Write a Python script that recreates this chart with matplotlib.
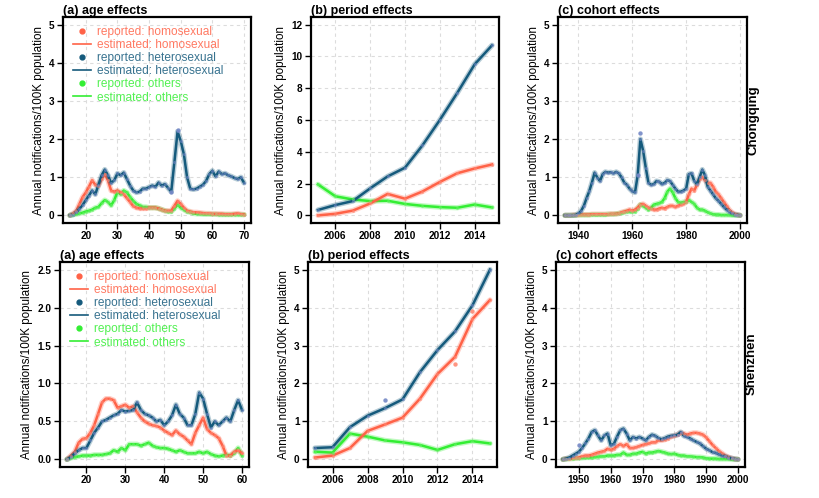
import numpy as np
import matplotlib
matplotlib.use('Agg')
import matplotlib.pyplot as plt
from matplotlib.lines import Line2D

plt.rcParams['font.family'] = ['Liberation Sans', 'DejaVu Sans']

# ---------------------------------------------------------------- data
cq_age = list(range(15, 71))
cq_age_homo = [0.0, 0.05, 0.12, 0.3, 0.48, 0.6, 0.75, 0.92, 0.8, 0.78,
               0.95, 1.08, 0.92, 0.65, 0.62, 0.65, 0.6, 0.55, 0.45, 0.35,
               0.24, 0.2, 0.18, 0.18, 0.18, 0.2, 0.2, 0.2, 0.18, 0.15,
               0.12, 0.12, 0.12, 0.25, 0.38, 0.3, 0.2, 0.12, 0.1, 0.08,
               0.08, 0.07, 0.06, 0.05, 0.05, 0.04, 0.04, 0.04, 0.04, 0.03,
               0.03, 0.03, 0.04, 0.05, 0.03, 0.02]
cq_age_hetero = [0.0, 0.02, 0.08, 0.17, 0.27, 0.4, 0.52, 0.65, 0.55, 0.8,
                 1.05, 1.2, 1.05, 0.85, 0.92, 1.1, 1.05, 1.12, 0.95, 0.78,
                 0.65, 0.6, 0.62, 0.7, 0.7, 0.74, 0.78, 0.75, 0.86, 0.78,
                 0.82, 0.72, 0.62, 1.4, 2.2, 1.95, 1.6, 1.0, 0.7, 0.68,
                 0.7, 0.75, 0.8, 0.9, 1.08, 1.17, 1.02, 1.15, 1.08, 1.1,
                 1.05, 1.02, 0.98, 0.95, 1.0, 0.85]
cq_age_other = [0.0, 0.02, 0.03, 0.05, 0.07, 0.1, 0.12, 0.15, 0.2, 0.22,
                0.32, 0.4, 0.35, 0.26, 0.4, 0.62, 0.55, 0.65, 0.6, 0.48,
                0.38, 0.3, 0.26, 0.22, 0.22, 0.2, 0.2, 0.2, 0.18, 0.15,
                0.12, 0.1, 0.1, 0.18, 0.28, 0.2, 0.15, 0.1, 0.08, 0.05,
                0.04, 0.04, 0.03, 0.03, 0.03, 0.03, 0.03, 0.02, 0.02, 0.02,
                0.02, 0.02, 0.02, 0.02, 0.02, 0.02]

cq_year = list(range(2005, 2016))
cq_year_homo = [0.0, 0.1, 0.3, 0.75, 1.35, 1.05, 1.5, 2.1, 2.65, 2.95, 3.2]
cq_year_hetero = [0.34, 0.65, 0.9, 1.7, 2.45, 3.0, 4.4, 6.0, 7.7, 9.5, 10.7]
cq_year_other = [1.95, 1.2, 1.0, 0.9, 0.92, 0.72, 0.6, 0.52, 0.48, 0.68, 0.5]

cq_cohort = list(range(1935, 2001))
cq_cohort_homo = [0, 0, 0, 0.01, 0.01, 0.01, 0.02, 0.02, 0.02, 0.02,
                  0.03, 0.03, 0.03, 0.03, 0.03, 0.03, 0.03, 0.04, 0.04, 0.04,
                  0.05, 0.08, 0.1, 0.12, 0.15, 0.12, 0.15, 0.2, 0.28, 0.3,
                  0.25, 0.2, 0.18, 0.15, 0.15, 0.18, 0.2, 0.18, 0.22, 0.25,
                  0.25, 0.22, 0.25, 0.28, 0.3, 0.35, 0.55, 0.7, 0.65, 0.8,
                  0.95, 1.0, 0.92, 0.85, 0.85, 0.75, 0.62, 0.55, 0.45, 0.35,
                  0.25, 0.15, 0.08, 0.04, 0.02, 0.0]
cq_cohort_hetero = [0, 0, 0, 0, 0.01, 0.05, 0.12, 0.25, 0.45, 0.63,
                    0.86, 1.12, 0.99, 0.9, 1.08, 1.14, 1.12, 1.13, 1.1, 1.14,
                    1.1, 1.0, 0.86, 0.8, 0.7, 0.63, 0.6, 1.05, 2.0, 1.7,
                    1.25, 0.85, 0.8, 0.82, 0.9, 0.88, 0.82, 0.85, 0.92, 0.9,
                    0.8, 0.7, 0.62, 0.62, 0.65, 0.7, 1.08, 1.1, 0.9, 0.82,
                    1.0, 1.2, 1.05, 0.75, 0.65, 0.55, 0.45, 0.38, 0.3, 0.22,
                    0.15, 0.1, 0.05, 0.02, 0.01, 0.0]
cq_cohort_other = [0, 0, 0, 0, 0, 0.01, 0.01, 0.01, 0.01, 0.01,
                   0.02, 0.02, 0.02, 0.02, 0.02, 0.02, 0.03, 0.03, 0.03, 0.04,
                   0.05, 0.06, 0.08, 0.1, 0.1, 0.1, 0.1, 0.18, 0.28, 0.25,
                   0.2, 0.15, 0.2, 0.28, 0.3, 0.32, 0.35, 0.45, 0.62, 0.7,
                   0.6, 0.45, 0.35, 0.33, 0.35, 0.35, 0.4, 0.35, 0.3, 0.2,
                   0.15, 0.15, 0.12, 0.08, 0.05, 0.03, 0.02, 0.02, 0.01, 0.01,
                   0.01, 0.01, 0, 0, 0, 0]

sz_age = list(range(15, 61))
sz_age_homo = [0.0, 0.05, 0.1, 0.22, 0.27, 0.28, 0.35, 0.45, 0.6, 0.75,
               0.8, 0.8, 0.78, 0.68, 0.7, 0.72, 0.68, 0.7, 0.62, 0.55,
               0.5, 0.47, 0.45, 0.44, 0.42, 0.38, 0.35, 0.32, 0.38, 0.33,
               0.3, 0.25, 0.2, 0.35, 0.45, 0.55, 0.4, 0.35, 0.32, 0.28,
               0.18, 0.05, 0.05, 0.1, 0.12, 0.08]
sz_age_hetero = [0.0, 0.03, 0.08, 0.12, 0.15, 0.15, 0.25, 0.35, 0.42, 0.5,
                 0.52, 0.55, 0.58, 0.6, 0.65, 0.63, 0.64, 0.65, 0.75, 0.65,
                 0.6, 0.58, 0.55, 0.5, 0.52, 0.45, 0.5, 0.58, 0.72, 0.6,
                 0.55, 0.45, 0.45, 0.6, 0.88, 0.8, 0.6, 0.42, 0.5, 0.45,
                 0.5, 0.55, 0.5, 0.65, 0.78, 0.65]
sz_age_other = [0.0, 0.02, 0.03, 0.04, 0.05, 0.05, 0.05, 0.06, 0.06, 0.06,
                0.07, 0.08, 0.12, 0.1, 0.15, 0.12, 0.2, 0.2, 0.2, 0.18,
                0.2, 0.22, 0.18, 0.16, 0.15, 0.15, 0.14, 0.12, 0.1, 0.12,
                0.1, 0.08, 0.08, 0.08, 0.1, 0.08, 0.1, 0.07, 0.05, 0.04,
                0.05, 0.06, 0.05, 0.08, 0.15, 0.05]

sz_year = list(range(2005, 2016))
sz_year_homo = [0.05, 0.1, 0.3, 0.75, 0.92, 1.1, 1.6, 2.25, 2.7, 3.7, 4.2]
sz_year_hetero = [0.3, 0.32, 0.85, 1.15, 1.35, 1.58, 2.3, 2.88, 3.37, 4.06, 5.0]
sz_year_other = [0.2, 0.18, 0.68, 0.6, 0.5, 0.45, 0.38, 0.25, 0.4, 0.48, 0.42]

sz_cohort = list(range(1945, 2001))
sz_cohort_homo = [0, 0.02, 0.02, 0.03, 0.04, 0.05, 0.08, 0.1, 0.1, 0.12,
                  0.15, 0.18, 0.2, 0.22, 0.28, 0.25, 0.28, 0.35, 0.4, 0.35,
                  0.4, 0.3, 0.3, 0.32, 0.35, 0.38, 0.4, 0.42, 0.45, 0.45,
                  0.5, 0.5, 0.52, 0.55, 0.6, 0.62, 0.65, 0.7, 0.68, 0.65,
                  0.68, 0.7, 0.7, 0.68, 0.65, 0.58, 0.48, 0.38, 0.3, 0.22,
                  0.16, 0.1, 0.06, 0.03, 0.01, 0.0]
sz_cohort_hetero = [0, 0.02, 0.05, 0.1, 0.15, 0.2, 0.3, 0.42, 0.55, 0.72,
                    0.77, 0.63, 0.5, 0.63, 0.68, 0.37, 0.41, 0.6, 0.77, 0.81,
                    0.68, 0.5, 0.59, 0.55, 0.59, 0.55, 0.5, 0.59, 0.65, 0.62,
                    0.56, 0.53, 0.56, 0.6, 0.62, 0.63, 0.65, 0.72, 0.62, 0.59,
                    0.55, 0.5, 0.46, 0.42, 0.35, 0.28, 0.24, 0.19, 0.17, 0.13,
                    0.1, 0.08, 0.05, 0.03, 0.01, 0.0]
sz_cohort_other = [0, 0.01, 0.02, 0.02, 0.03, 0.03, 0.04, 0.05, 0.05, 0.05,
                   0.06, 0.07, 0.08, 0.08, 0.1, 0.1, 0.1, 0.12, 0.12, 0.18,
                   0.12, 0.12, 0.15, 0.15, 0.18, 0.2, 0.15, 0.18, 0.18, 0.2,
                   0.22, 0.2, 0.18, 0.15, 0.14, 0.15, 0.12, 0.1, 0.1, 0.08,
                   0.08, 0.07, 0.06, 0.06, 0.05, 0.03, 0.02, 0.02, 0.02, 0.01,
                   0.01, 0.01, 0.01, 0, 0, 0]

# reported values that sit off the estimated curve: (panel, group, x, value)
reported_outliers = [('cq_age', 'hetero', 49, 2.25), ('cq_age', 'hetero', 47, 0.6),
                     ('cq_cohort', 'hetero', 1963, 2.15), ('cq_cohort', 'hetero', 1962, 1.07),
                     ('sz_cohort', 'hetero', 1950, 0.37), ('sz_year', 'hetero', 2009, 1.57),
                     ('sz_year', 'homo', 2013, 2.52), ('sz_year', 'homo', 2014, 3.9)]

groups = ['homo', 'hetero', 'other']
labels = {'homo': 'homosexual', 'hetero': 'heterosexual', 'other': 'others'}
colors = {'homo': '#FF6247', 'hetero': '#155A7C', 'other': '#33EE33'}
pt_colors = {'homo': '#FF8A75', 'hetero': '#7488C6', 'other': '#66F066'}

panels = {
    'cq_age': (cq_age, {'homo': cq_age_homo, 'hetero': cq_age_hetero, 'other': cq_age_other}),
    'cq_year': (cq_year, {'homo': cq_year_homo, 'hetero': cq_year_hetero, 'other': cq_year_other}),
    'cq_cohort': (cq_cohort, {'homo': cq_cohort_homo, 'hetero': cq_cohort_hetero, 'other': cq_cohort_other}),
    'sz_age': (sz_age, {'homo': sz_age_homo, 'hetero': sz_age_hetero, 'other': sz_age_other}),
    'sz_year': (sz_year, {'homo': sz_year_homo, 'hetero': sz_year_hetero, 'other': sz_year_other}),
    'sz_cohort': (sz_cohort, {'homo': sz_cohort_homo, 'hetero': sz_cohort_hetero, 'other': sz_cohort_other}),
}

titles = {'age': '(a) age effects', 'year': '(b) period effects', 'cohort': '(c) cohort effects'}

# ---------------------------------------------------------------- layout (pixels of 820x498)
W, H = 820, 498
boxes = {
    'cq_age': (63, 17, 251, 223), 'cq_year': (311, 17, 499, 223), 'cq_cohort': (558, 17, 747, 223),
    'sz_age': (60, 262, 249, 467), 'sz_year': (308, 262, 497, 467), 'sz_cohort': (556, 262, 745, 467),
}
ylims = {'cq_age': (0, 5), 'cq_year': (0, 12), 'cq_cohort': (0, 5),
         'sz_age': (0, 2.5), 'sz_year': (0, 5), 'sz_cohort': (0, 5)}
yticks = {'cq_age': [0, 1, 2, 3, 4, 5], 'cq_year': [0, 2, 4, 6, 8, 10, 12], 'cq_cohort': [0, 1, 2, 3, 4, 5],
          'sz_age': [0.0, 0.5, 1.0, 1.5, 2.0, 2.5], 'sz_year': [0, 1, 2, 3, 4, 5], 'sz_cohort': [0, 1, 2, 3, 4, 5]}
xticks = {'cq_age': [20, 30, 40, 50, 60, 70], 'cq_year': [2006, 2008, 2010, 2012, 2014],
          'cq_cohort': [1940, 1960, 1980, 2000], 'sz_age': [20, 30, 40, 50, 60],
          'sz_year': [2006, 2008, 2010, 2012, 2014], 'sz_cohort': [1950, 1960, 1970, 1980, 1990, 2000]}

fig = plt.figure(figsize=(W / 100, H / 100), dpi=100)

for key, (xs, series) in panels.items():
    l, t, r, b = boxes[key]
    ax = fig.add_axes([l / W, 1 - b / H, (r - l) / W, (b - t) / H])
    xs = np.array(xs)
    pad = 0.04 * (xs.max() - xs.min())
    ax.set_xlim(xs.min() - pad, xs.max() + pad)
    y0, y1 = ylims[key]
    ypad = 0.04 * (y1 - y0)
    ax.set_ylim(y0 - ypad, y1 + ypad)

    ax.set_xticks(xticks[key])
    ax.set_yticks(yticks[key])
    if key == 'sz_age':
        ax.set_yticklabels(['%.1f' % v for v in yticks[key]])
    ax.grid(True, color='#DCDCDC', linestyle=(0, (3, 3)), linewidth=0.8)
    ax.set_axisbelow(True)

    for g in ['other', 'homo', 'hetero']:
        ys = np.array(series[g])
        ax.plot(xs, ys, color=colors[g], lw=3.8, alpha=0.3, solid_capstyle='round')
        ax.plot(xs, ys, color=colors[g], lw=1.8)
        ax.scatter(xs, ys, s=5, color=pt_colors[g], alpha=0.6, lw=0, zorder=3)
    for (pk, g, xv, yv) in reported_outliers:
        if pk == key:
            ax.scatter([xv], [yv], s=10, color=pt_colors[g], alpha=0.9, lw=0, zorder=4)

    for s in ax.spines.values():
        s.set_linewidth(1.6)
    ax.tick_params(length=4, width=1, pad=2, labelsize=7.2)
    for lab in ax.get_xticklabels() + ax.get_yticklabels():
        lab.set_fontweight('bold')
    ax.set_ylabel('Annual notifications/100K population', fontsize=8.4, labelpad=3)
    ax.set_title(titles[key.split('_')[1]], loc='left', fontsize=9, fontweight='bold', pad=1.5)

    if key.endswith('age'):
        handles = []
        for g in groups:
            handles.append(Line2D([], [], marker='o', ls='', color=colors[g], markersize=3.5,
                                  label='reported: ' + labels[g]))
            handles.append(Line2D([], [], color=colors[g], lw=1.2, label='estimated: ' + labels[g]))
        leg = ax.legend(handles=handles, loc='upper left', bbox_to_anchor=(-0.005, 1.01),
                        frameon=False, fontsize=8.6,
                        handlelength=1.5, handletextpad=0.5, labelspacing=0.1,
                        borderaxespad=0.7, borderpad=0.2)
        for txt, g in zip(leg.get_texts(), [g for g in groups for _ in range(2)]):
            txt.set_color(colors[g])
            txt.set_alpha(0.85)

fig.text(754 / W, 1 - 120 / H, 'Chongqing', rotation=90, ha='center', va='center',
         fontsize=9.5, fontweight='bold')
fig.text(752 / W, 1 - 364 / H, 'Shenzhen', rotation=90, ha='center', va='center',
         fontsize=9.5, fontweight='bold')

fig.savefig('out.png', dpi=100)
